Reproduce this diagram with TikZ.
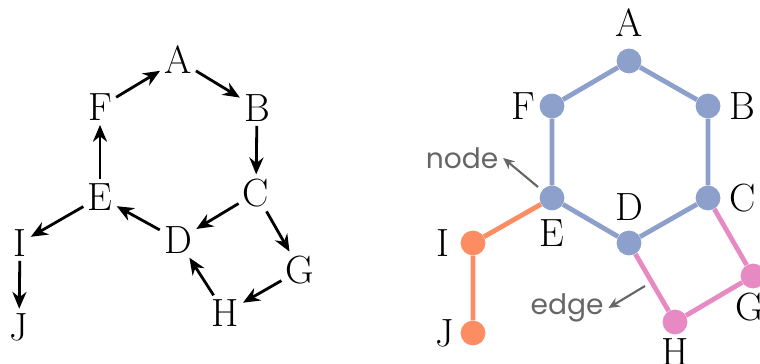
\documentclass[tikz,border=0pt]{standalone}
\usepackage{fontspec}
\newfontfamily\notefont{Poppins}
\usetikzlibrary{arrows.meta, positioning}

\definecolor{hexblue}{HTML}{8DA0CB}
\definecolor{tailorange}{HTML}{FC8D62}
\definecolor{looppink}{HTML}{E78AC3}
\definecolor{notegray}{HTML}{666666}

\tikzset{
  letter/.style={font=\fontsize{28}{32}\selectfont, inner sep=2pt},
  darc/.style={->, line width=2pt, >={Stealth[length=12pt, width=10pt]}, shorten >=1pt, shorten <=1pt},
  vtx/.style={circle, fill=#1, minimum size=0.62cm, inner sep=0pt},
  link/.style={line width=0.12cm, #1},
  note/.style={text=notegray, font=\notefont\fontsize{20}{24}\selectfont},
  pointer/.style={->, notegray, line width=1.5pt, >={Stealth[length=8pt, width=7pt]}}
}

\begin{document}
\begin{tikzpicture}
    \useasboundingbox[fill=white] (0,0) rectangle (19,9.1);

    % Directed graph
    \node[letter] (lA) at (4.45, 7.6) {A};
    \node[letter] (lF) at (2.5, 6.425) {F};
    \node[letter] (lB) at (6.425, 6.4) {B};
    \node[letter] (lE) at (2.5, 4.175) {E};
    \node[letter] (lC) at (6.4, 4.275) {C};
    \node[letter] (lD) at (4.45, 3.1) {D};
    \node[letter] (lI) at (0.5, 3.025) {I};
    \node[letter] (lJ) at (0.475, 0.925) {J};
    \node[letter] (lG) at (7.5, 2.35) {G};
    \node[letter] (lH) at (5.625, 1.275) {H};

    \draw[darc] (lF) -- (lA);
    \draw[darc] (lA) -- (lB);
    \draw[darc] (lB) -- (lC);
    \draw[darc] (lC) -- (lD);
    \draw[darc] (lD) -- (lE);
    \draw[darc] (lE) -- (lF);
    \draw[darc] (lE) -- (lI);
    \draw[darc] (lI) -- (lJ);
    \draw[darc] (lC) -- (lG);
    \draw[darc] (lG) -- (lH);
    \draw[darc] (lH) -- (lD);

    % Undirected graph with coloured parts
    \node[vtx=hexblue] (rA) at (15.725, 7.575) {};
    \node[vtx=hexblue] (rF) at (13.8, 6.45) {};
    \node[vtx=hexblue] (rB) at (17.7, 6.45) {};
    \node[vtx=hexblue] (rE) at (13.8, 4.15) {};
    \node[vtx=hexblue] (rC) at (17.7, 4.15) {};
    \node[vtx=hexblue] (rD) at (15.725, 3.025) {};
    \node[vtx=tailorange] (rI) at (11.825, 3.025) {};
    \node[vtx=tailorange] (rJ) at (11.825, 0.775) {};
    \node[vtx=looppink] (rH) at (16.875, 1.05) {};
    \node[vtx=looppink] (rG) at (18.825, 2.2) {};

    \draw[link=hexblue] (rA) -- (rB) -- (rC) -- (rD) -- (rE) -- (rF) -- (rA);
    \draw[link=tailorange] (rE) -- (rI) -- (rJ);
    \draw[link=looppink] (rC) -- (rG) -- (rH) -- (rD);

    % Vertex labels
    \node[letter] (tA) at ([yshift=0.95cm]rA) {A};
    \node[letter] (tF) at ([xshift=-0.72cm]rF) {F};
    \node[letter] (tB) at ([xshift=0.85cm]rB) {B};
    \node[letter] (tE) at ([yshift=-0.875cm]rE) {E};
    \node[letter] (tC) at ([xshift=0.875cm]rC) {C};
    \node[letter] (tD) at ([yshift=0.9cm]rD) {D};
    \node[letter] (tI) at ([xshift=-0.75cm]rI) {I};
    \node[letter] (tJ) at ([xshift=-0.7cm]rJ) {J};
    \node[letter] (tH) at ([yshift=-0.75cm]rH) {H};
    \node[letter] (tG) at ([xshift=-0.075cm, yshift=-0.775cm]rG) {G};

    % Annotations
    \node[note] (nnode) at (11.55, 5.15) {node};
    \node[note] (nedge) at (14.175, 1.4) {edge};
    \coordinate (pnode) at (13.45, 4.425);
    \coordinate (pedge) at (16.125, 1.95);
    \draw[pointer] (pnode) -- (nnode.east);
    \draw[pointer] (pedge) -- (nedge.east);
\end{tikzpicture}
\end{document}
